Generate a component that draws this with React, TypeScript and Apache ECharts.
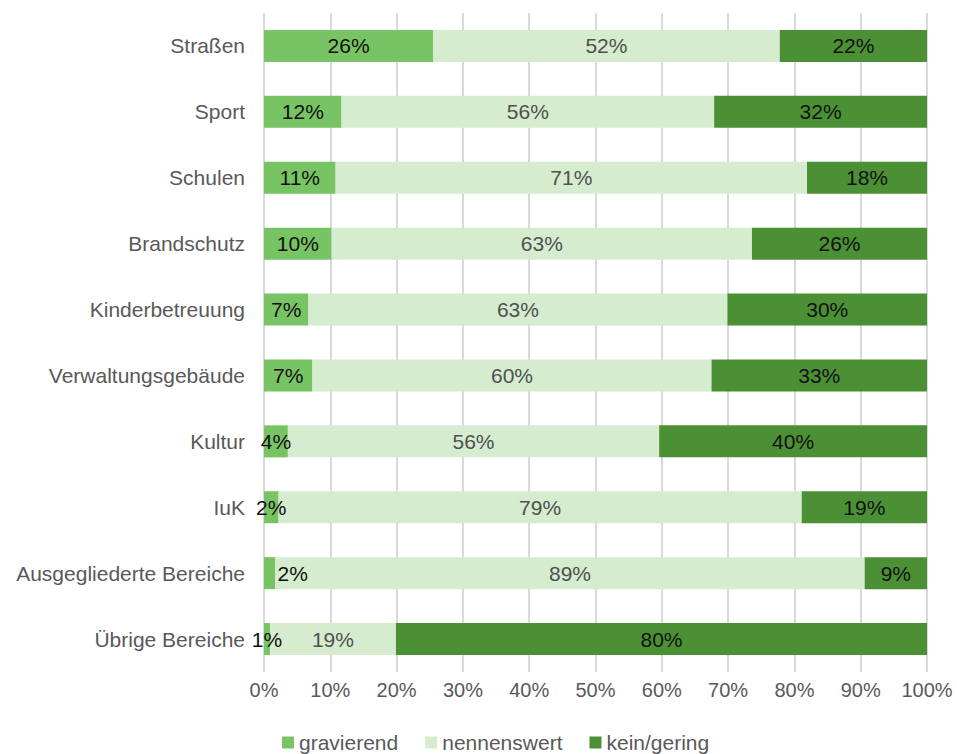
import React, { useEffect, useRef } from "react";
import * as echarts from "echarts";

const categories = [
  "Straßen",
  "Sport",
  "Schulen",
  "Brandschutz",
  "Kinderbetreuung",
  "Verwaltungsgebäude",
  "Kultur",
  "IuK",
  "Ausgegliederte Bereiche",
  "Übrige Bereiche",
];
const gravierend = [25.5, 11.7, 10.8, 10.2, 6.7, 7.3, 3.6, 2.2, 1.7, 0.9];
const nennenswert = [52.3, 56.2, 71.1, 63.4, 63.2, 60.2, 56.0, 78.9, 88.9, 19.0];
const keinGering = [22.2, 32.1, 18.1, 26.4, 30.1, 32.5, 40.4, 18.9, 9.4, 80.1];
const seriesNames = ["gravierend", "nennenswert", "kein/gering"];
const tickLabels = ["0%", "10%", "20%", "30%", "40%", "50%", "60%", "70%", "80%", "90%", "100%"];

const FONT = "'Liberation Sans', Arial, sans-serif";

export default function App() {
  const ref = useRef<HTMLDivElement>(null);
  useEffect(() => {
    if (!ref.current) return;
    const chart = echarts.init(ref.current, undefined, { renderer: "svg" });
    const colors = ["#78C364", "#D5ECCF", "#4B9034"];
    const labelColors = ["#111111", "#505050", "#111111"];
    const datasets = [gravierend, nennenswert, keinGering];
    chart.setOption({
      animation: false,
      textStyle: { fontFamily: FONT },
      grid: { left: 264, right: 30, top: 13, bottom: 82, containLabel: false },
      legend: {
        left: 277,
        top: 727,
        itemWidth: 12,
        itemHeight: 12,
        itemGap: 27,
        icon: "rect",
        textStyle: { fontSize: 21, color: "#595959", fontFamily: FONT },
        data: seriesNames,
      },
      xAxis: {
        type: "value",
        min: 0,
        max: 100,
        interval: 10,
        axisLine: { show: false },
        axisTick: { show: false },
        splitLine: { show: true, lineStyle: { color: "#D9D9D9", width: 2 } },
        axisLabel: {
          fontSize: 20,
          color: "#595959",
          fontFamily: FONT,
          margin: 8,
          formatter: (v: number) => tickLabels[Math.round(v / 10)],
        },
      },
      yAxis: {
        type: "category",
        data: categories,
        inverse: true,
        axisLine: { show: false },
        axisTick: { show: false },
        axisLabel: { fontSize: 21, color: "#595959", fontFamily: FONT, margin: 19 },
      },
      series: datasets.map((d, si) => ({
        name: seriesNames[si],
        type: "bar",
        stack: "total",
        barWidth: 32,
        itemStyle: { color: colors[si] },
        label: {
          show: true,
          position: "inside",
          fontSize: 21,
          fontFamily: FONT,
          color: labelColors[si],
          formatter: (p: any) => Math.round(p.value) + "%",
        },
        data: d.map((v, i) =>
          si === 0 && categories[i] === "Ausgegliederte Bereiche"
            ? { value: v, label: { offset: [23, 0] } }
            : v
        ),
      })),
    });
    return () => chart.dispose();
  }, []);
  return (
    <div
      ref={ref}
      style={{ position: "fixed", left: 0, top: 0, width: 957, height: 754, background: "#fff" }}
    />
  );
}
